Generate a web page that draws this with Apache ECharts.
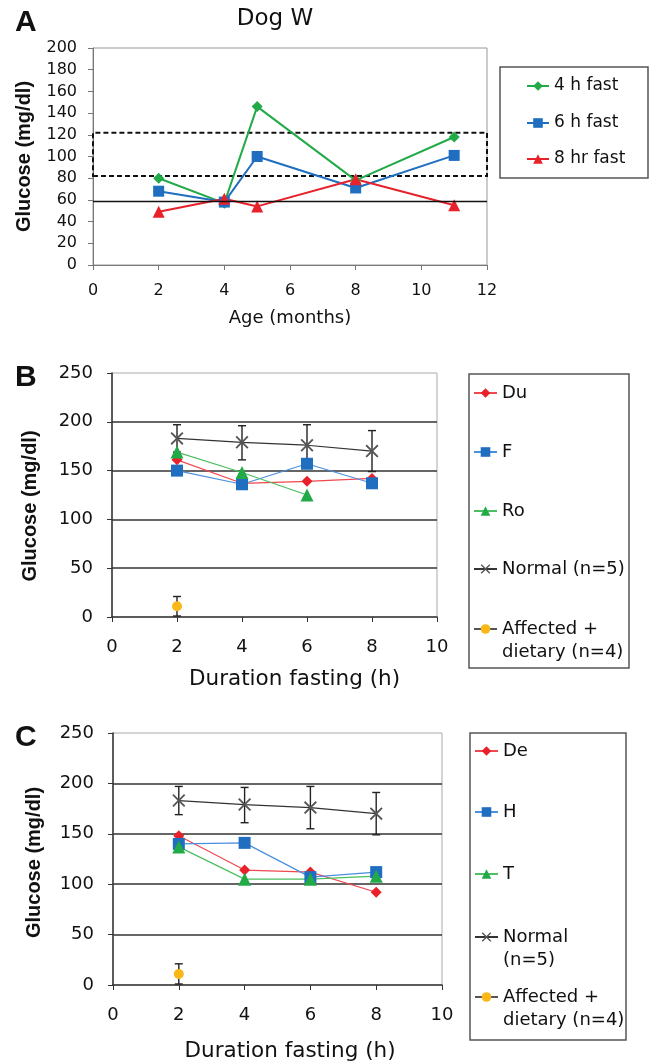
<!DOCTYPE html>
<html>
<head>
<meta charset="utf-8">
<script src="https://cdn.jsdelivr.net/npm/echarts@6/dist/echarts.min.js"></script>
<style>html,body{margin:0;padding:0;background:#fff}#c{width:650px;height:1063px}</style>
</head>
<body>
<div id="c"></div>
<script>
// ---------- DATA ----------
// Panel A (Dog W)
const ageMonths = [2, 4, 5, 8, 11];
const fast4h = [80, 57, 146, 78, 118];
const fast6h = [68, 58, 100, 71, 101];
const fast8h = [49, 61, 54, 79, 55];
const refRangeA = [82, 122];   // dashed box
const refLineA = 59;           // solid line
const xTicksA = [0, 12, 2];    // min, max, step
const yTicksA = [0, 200, 20];

// Panels B and C
const fastHours = [2, 4, 6, 8];
const normalMean = [183, 179, 176, 170];
const normalUpper = [197, 196, 197, 191];
const normalLower = [169, 161, 155, 149];
const affectedHours = [2];
const affectedMean = [11];
const affectedUpper = [21];
const affectedLower = [1];

const du = [161, 137, 139, 142];
const fDog = [150, 136, 157, 137];
const ro = [169, 148, 125];

const de = [148, 114, 112, 92];
const hDog = [140, 141, 107, 112];
const tDog = [137, 105, 105, 108];

const xTicksBC = [0, 10, 2];
const yTicksBC = [0, 250, 50];

// ---------- STYLE ----------
const F = 'DejaVu Sans';
const FA = 'Liberation Sans';
const RED = '#E8212A', BLUE = '#1F6EC0', GREEN = '#22AA48', YEL = '#F9B817';
const XSYM = 'path://M0,1 L1,0 L5,4 L9,0 L10,1 L6,5 L10,9 L9,10 L5,6 L1,10 L0,9 L4,5 Z';

const zip = (xs, ys) => ys.map((y, i) => [xs[i], y]);

function lineSeries(name, idx, xs, ys, color, symbol, size, width, lineColor) {
  return {
    name, type: 'line', xAxisIndex: idx, yAxisIndex: idx,
    data: zip(xs, ys), symbol, symbolSize: size,
    itemStyle: { color }, lineStyle: { color: lineColor || color, width },
    emphasis: { disabled: true }, animation: false
  };
}
function errSeries(idx, xs, lo, hi) {
  return {
    type: 'custom', xAxisIndex: idx, yAxisIndex: idx, animation: false, silent: true, z: 1,
    data: xs.map((x, i) => [x, lo[i], hi[i]]),
    renderItem: (p, api) => {
      const x = api.value(0);
      const a = api.coord([x, api.value(1)]);
      const b = api.coord([x, api.value(2)]);
      const w = 4, st = { stroke: '#222', lineWidth: 1.4 };
      return { type: 'group', children: [
        { type: 'line', shape: { x1: a[0], y1: a[1], x2: b[0], y2: b[1] }, style: st },
        { type: 'line', shape: { x1: b[0] - w, y1: b[1], x2: b[0] + w, y2: b[1] }, style: st },
        { type: 'line', shape: { x1: a[0] - w, y1: a[1], x2: a[0] + w, y2: a[1] }, style: st }
      ] };
    }
  };
}
// twoLine: the icon lines up with the first text line (a blank line is put above)
function legendItem(name, left, cy, fs, iw, twoLine) {
  const L = Math.round(fs * 1.25);
  const o = {
    data: [name], left, top: twoLine ? cy - 1.5 * L : cy - L / 2,
    orient: 'vertical', padding: 0, itemWidth: iw, itemHeight: 12, itemGap: 0,
    selectedMode: false,
    textStyle: { fontFamily: F, fontSize: fs, color: '#111', lineHeight: L }
  };
  if (twoLine) o.formatter = n => '\u00a0\n' + n;
  return o;
}
function valAxis(idx, t, o) {
  return Object.assign({
    type: 'value', gridIndex: idx, min: t[0], max: t[1], interval: t[2],
    axisLine: { show: true, lineStyle: { color: o.axisColor, width: o.axisWidth } },
    axisTick: { show: true, length: 5, lineStyle: { color: o.axisColor } },
    axisLabel: { fontFamily: F, fontSize: o.fs, color: '#111', margin: o.margin },
    nameLocation: 'middle'
  }, o.extra);
}

const gridSplitColors = ['rgba(0,0,0,0)', '#333', '#333', '#333', '#333', 'rgba(0,0,0,0)'];

const option = {
  backgroundColor: '#fff',
  animation: false,
  grid: [
    { left: 93, top: 48, width: 394, height: 217, show: true, borderColor: '#999', borderWidth: 1 },
    { left: 112, top: 373, width: 325, height: 244, show: true, borderColor: '#aaa', borderWidth: 1 },
    { left: 113, top: 733, width: 329, height: 252, show: true, borderColor: '#aaa', borderWidth: 1 }
  ],
  xAxis: [
    valAxis(0, xTicksA, { axisColor: '#777', axisWidth: 1, fs: 16, margin: 18, extra: {
      name: 'Age (months)', nameGap: 44, nameTextStyle: { fontFamily: F, fontSize: 18, color: '#111' }, splitLine: { show: false } } }),
    valAxis(1, xTicksBC, { axisColor: '#333', axisWidth: 1.5, fs: 18, margin: 21, extra: {
      name: 'Duration fasting (h)', nameGap: 51, nameTextStyle: { fontFamily: F, fontSize: 21.5, color: '#111', padding: [0, 0, 0, 40] }, splitLine: { show: false } } }),
    valAxis(2, xTicksBC, { axisColor: '#333', axisWidth: 1.5, fs: 18, margin: 21, extra: {
      name: 'Duration fasting (h)', nameGap: 55, nameTextStyle: { fontFamily: F, fontSize: 21.5, color: '#111', padding: [0, 0, 0, 25] }, splitLine: { show: false } } })
  ],
  yAxis: [
    valAxis(0, yTicksA, { axisColor: '#777', axisWidth: 1, fs: 16, margin: 16, extra: {
      name: 'Glucose (mg/dl)', nameGap: 59, nameTextStyle: { fontFamily: FA, fontWeight: 'bold', fontSize: 20, color: '#111' }, splitLine: { show: false } } }),
    valAxis(1, yTicksBC, { axisColor: '#333', axisWidth: 1.5, fs: 18, margin: 19, extra: {
      name: 'Glucose (mg/dl)', nameGap: 72, nameTextStyle: { fontFamily: FA, fontWeight: 'bold', fontSize: 20, color: '#111', padding: [0, 22, 0, 0] },
      splitLine: { show: true, lineStyle: { color: gridSplitColors, width: 1.5 } } } }),
    valAxis(2, yTicksBC, { axisColor: '#333', axisWidth: 1.5, fs: 18, margin: 19, extra: {
      name: 'Glucose (mg/dl)', nameGap: 69, nameTextStyle: { fontFamily: FA, fontWeight: 'bold', fontSize: 20, color: '#111', padding: [0, 7, 0, 0] },
      splitLine: { show: true, lineStyle: { color: gridSplitColors, width: 1.5 } } } })
  ],
  legend: [
    legendItem('4 h fast', 526, 86, 17, 22),
    legendItem('6 h fast', 526, 123, 17, 22),
    legendItem('8 hr fast', 526, 159, 17, 22),
    legendItem('Du', 473, 393, 18, 23),
    legendItem('F', 473, 452, 18, 23),
    legendItem('Ro', 473, 511, 18, 23),
    legendItem('Normal (n=5)', 473, 569, 18, 23),
    legendItem('Affected +\ndietary (n=4)', 473, 629, 18, 23, true),
    legendItem('De', 474, 751, 18, 23),
    legendItem('H', 474, 812, 18, 23),
    legendItem('T', 474, 874, 18, 23),
    legendItem('Normal\n(n=5)', 474, 937, 18, 23, true),
    legendItem('Affected +\ndietary (n=4)', 474, 997, 18, 23, true)
  ],
  graphic: [
    { type: 'text', left: 15, top: 8, style: { text: 'A', fontFamily: FA, fontWeight: 'bold', fontSize: 30, fill: '#111' } },
    { type: 'text', left: 15, top: 363, style: { text: 'B', fontFamily: FA, fontWeight: 'bold', fontSize: 30, fill: '#111' } },
    { type: 'text', left: 15, top: 723, style: { text: 'C', fontFamily: FA, fontWeight: 'bold', fontSize: 30, fill: '#111' } },
    { type: 'text', x: 275, y: 19, style: { text: 'Dog W', fontFamily: F, fontSize: 23, fill: '#111', align: 'center', verticalAlign: 'middle' } },
    { type: 'rect', shape: { x: 500, y: 67, width: 148, height: 111 }, style: { fill: 'none', stroke: '#555', lineWidth: 1.5 }, z: -1 },
    { type: 'rect', shape: { x: 469, y: 374, width: 160, height: 294 }, style: { fill: 'none', stroke: '#555', lineWidth: 1.5 }, z: -1 },
    { type: 'rect', shape: { x: 470, y: 733, width: 156, height: 307 }, style: { fill: 'none', stroke: '#555', lineWidth: 1.5 }, z: -1 }
  ],
  series: [
    Object.assign(lineSeries('4 h fast', 0, ageMonths, fast4h, GREEN, 'diamond', 11, 2), {
      markLine: { silent: true, symbol: 'none', label: { show: false }, lineStyle: { color: '#111', type: 'solid', width: 1.3 },
        data: [{ yAxis: refLineA }] },
      markArea: { silent: true, label: { show: false },
        itemStyle: { color: 'rgba(0,0,0,0)', borderColor: '#111', borderWidth: 2, borderType: [5, 3] },
        data: [[{ xAxis: xTicksA[0], yAxis: refRangeA[0] }, { xAxis: xTicksA[1], yAxis: refRangeA[1] }]] }
    }),
    lineSeries('6 h fast', 0, ageMonths, fast6h, BLUE, 'rect', 11, 2),
    lineSeries('8 hr fast', 0, ageMonths, fast8h, RED, 'triangle', 12, 2),

    errSeries(1, fastHours, normalLower, normalUpper),
    errSeries(1, affectedHours, affectedLower, affectedUpper),
    lineSeries('Normal (n=5)', 1, fastHours, normalMean, '#555', XSYM, 13, 1.2, '#333'),
    lineSeries('Du', 1, fastHours, du, RED, 'diamond', 11, 1.2, '#F0484F'),
    lineSeries('F', 1, fastHours, fDog, BLUE, 'rect', 12, 1.2, '#4A8FE0'),
    lineSeries('Ro', 1, fastHours, ro, GREEN, 'triangle', 13, 1.2, '#4CBF60'),
    lineSeries('Affected +\ndietary (n=4)', 1, affectedHours, affectedMean, YEL, 'circle', 10, 1.2, '#555'),

    errSeries(2, fastHours, normalLower, normalUpper),
    errSeries(2, affectedHours, affectedLower, affectedUpper),
    lineSeries('Normal\n(n=5)', 2, fastHours, normalMean, '#555', XSYM, 13, 1.2, '#333'),
    lineSeries('De', 2, fastHours, de, RED, 'diamond', 11, 1.2, '#F0484F'),
    lineSeries('H', 2, fastHours, hDog, BLUE, 'rect', 12, 1.2, '#4A8FE0'),
    lineSeries('T', 2, fastHours, tDog, GREEN, 'triangle', 13, 1.2, '#4CBF60'),
    lineSeries('Affected +\ndietary (n=4)', 2, affectedHours, affectedMean, YEL, 'circle', 10, 1.2, '#555')
  ]
};

const chart = echarts.init(document.getElementById('c'), null, { renderer: 'canvas' });
chart.setOption(option);
</script>
</body>
</html>
